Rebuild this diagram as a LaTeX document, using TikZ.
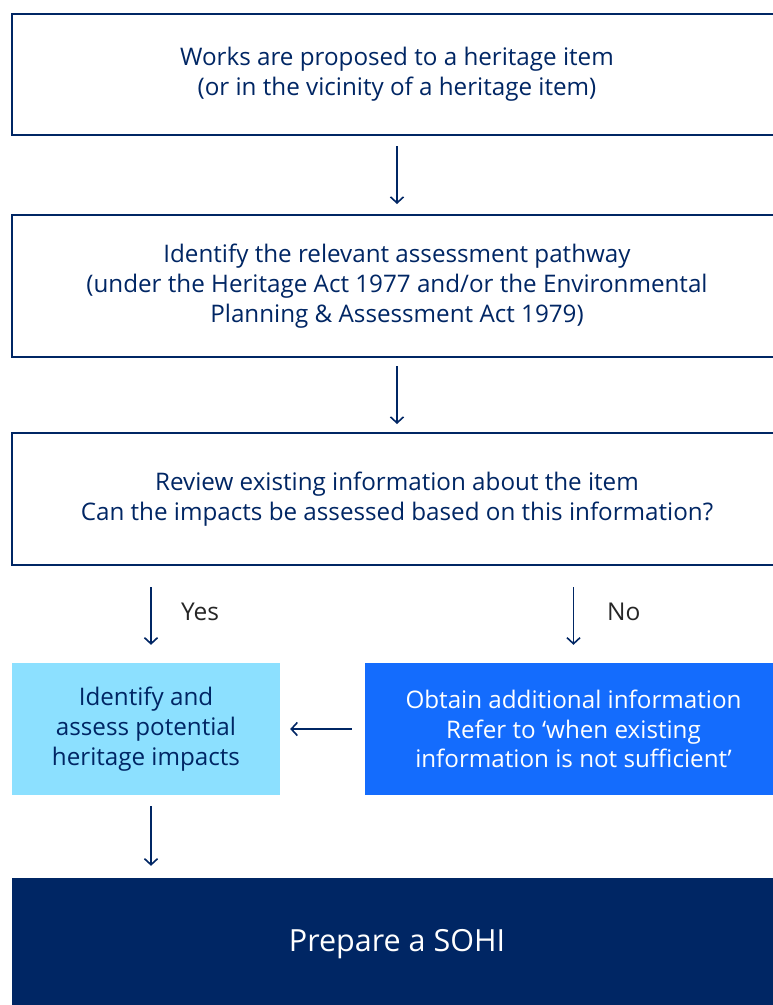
\documentclass[tikz,border=0pt]{standalone}
\usepackage{fontspec}
\setmainfont{Open Sans}
\usetikzlibrary{arrows.meta}
\definecolor{navy}{HTML}{002664}
\definecolor{lightblue}{HTML}{8CE0FF}
\definecolor{midblue}{HTML}{146CFD}
\tikzset{
  txt/.style={align=center, inner sep=0pt, font=\fontsize{24.2}{29.7}\selectfont},
  box/.style={txt, draw=navy, line width=2pt, fill=white, text=navy},
  lbox/.style={txt, fill=lightblue, text=navy},
  bbox/.style={txt, fill=midblue, text=white},
  dbox/.style={fill=navy, text=white, align=center, inner sep=0pt, font=\fontsize{30.5}{32}\selectfont},
  arr/.style={draw=navy, line width=1.6pt, -{Straight Barb[length=6pt,width=13pt]}},
  lab/.style={text=black!85, font=\fontsize{24.5}{26}\selectfont, inner sep=0pt}
}
\begin{document}
\begin{tikzpicture}[x=1pt,y=-1pt]
\useasboundingbox (0,0) rectangle (772,1005);
\fill[white] (0,0) rectangle (772,1005);
\node[box, minimum width=770pt, minimum height=121pt] (b1) at (397,74.5)
  {Works are proposed to a heritage item\\(or in the vicinity of a heritage item)};
\node[box, minimum width=770pt, minimum height=142pt] (b2) at (397,286)
  {Identify the relevant assessment pathway\\(under the Heritage Act 1977 and/or the Environmental\\Planning \& Assessment Act 1979)};
\node[box, minimum width=770pt, minimum height=132pt] (b3) at (397,499)
  {Review existing information about the item\\Can the impacts be assessed based on this information?};
\node[lbox, minimum width=268pt, minimum height=132pt] (b4) at (146,729)
  {Identify and\\assess potential\\heritage impacts};
\node[bbox, minimum width=417pt, minimum height=132pt] (b5) at (573.5,729)
  {Obtain additional information\\Refer to ‘when existing\\information is not sufficient’};
\node[dbox, minimum width=770pt, minimum height=132pt] (b6) at (397,944)
  {Prepare a SOHI};
\draw[arr, shorten <=10pt, shorten >=10pt] (b1.south) -- (b2.north);
\draw[arr, shorten <=8pt, shorten >=8pt] (b2.south) -- (b3.north);
\draw[arr, shorten <=21pt, shorten >=18pt] ([xshift=5pt]b4.north |- b3.south) -- ([xshift=5pt]b4.north);
\draw[arr, shorten <=21pt, shorten >=18pt] (b3.south -| b5.north) -- (b5.north);
\draw[arr, shorten <=13pt, shorten >=10pt] (b5.west) -- (b4.east);
\draw[arr, shorten <=11pt, shorten >=12pt] ([xshift=5pt]b4.south) -- ([xshift=5pt]b4.south |- b6.north);
\node[lab, anchor=west] (yes) at (181,612) {Yes};
\node[lab, anchor=west] (no) at (607,612) {No};
\end{tikzpicture}
\end{document}
